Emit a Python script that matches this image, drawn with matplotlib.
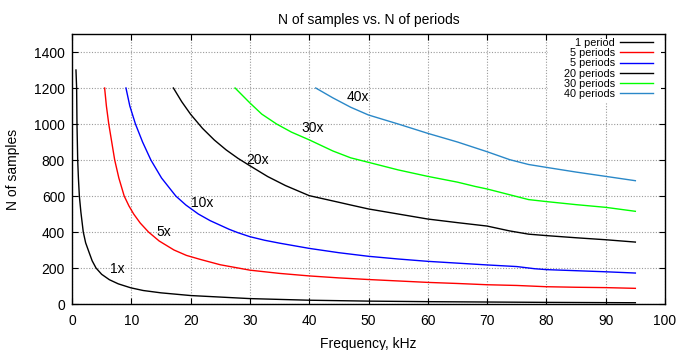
import matplotlib
matplotlib.use("Agg")
import matplotlib.pyplot as plt
from matplotlib.patches import Rectangle

plt.rcParams['font.family'] = ['Liberation Sans', 'DejaVu Sans']

# ---- data ----
freq_1x = [0.67, 0.78, 0.84, 0.96, 1.08, 1.24, 1.5, 1.9, 2.3, 2.9, 3.4, 4.05, 5.0, 6.3, 7.8, 9.9, 12, 15, 20, 30, 40, 50, 60, 70, 80, 95]
n_1x = [1300, 1200, 1000, 800, 700, 600, 510, 400, 340, 285, 240, 200, 165, 135, 112, 90, 75, 62, 47, 30, 21, 16, 13, 11, 9, 7]

freq_5x = [5.5, 5.8, 6.2, 6.7, 7.2, 7.9, 8.8, 9.6, 10.4, 11.5, 12.9, 14.7, 17.2, 19.3, 21.6, 25, 30, 35, 40, 45, 50, 55, 60, 65, 70, 75, 80, 85, 90, 95]
n_5x = [1200, 1100, 1000, 900, 800, 700, 600, 545, 500, 450, 400, 350, 300, 270, 248, 218, 188, 170, 156, 145, 136, 128, 120, 114, 107, 103, 96, 93, 91, 87]

freq_10x = [9.1, 9.75, 10.7, 11.9, 13.3, 15.1, 17.5, 19.2, 21.3, 23.3, 26.5, 28, 30, 32.5, 35, 40, 45, 50, 55, 60, 65, 70, 75, 78, 80, 85, 90, 95]
n_10x = [1200, 1100, 1000, 900, 800, 700, 600, 550, 500, 463, 415, 396, 374, 354, 338, 309, 285, 265, 250, 237, 227, 217, 208, 196, 191, 185, 179, 172]

freq_20x = [17.1, 18.5, 20, 22, 24, 26, 28, 30, 33, 36, 40, 45, 47, 50, 55, 60, 65, 70, 73.8, 77, 80, 85, 90, 95]
n_20x = [1200, 1124, 1054, 976, 911, 856, 809, 768, 708, 658, 602, 565, 550, 528, 500, 472, 452, 433, 406, 388, 380, 368, 357, 344]

freq_30x = [27.5, 30, 32, 34.5, 37, 40, 44, 47, 50, 55, 60, 65, 68, 70, 73.8, 77, 80, 85, 90, 95]
n_30x = [1200, 1117, 1055, 1000, 955, 912, 850, 812, 787, 745, 709, 677, 653, 639, 607, 580, 569, 552, 537, 515]

freq_40x = [41.1, 44, 47, 50, 55, 60, 65, 70, 73.8, 77, 80, 85, 90, 95]
n_40x = [1200, 1145, 1093, 1050, 1000, 948, 900, 846, 802, 775, 759, 733, 709, 685]

legend_labels = ["1 period", "5 periods", "5 periods", "20 periods", "30 periods", "40 periods"]
colors = ["#000000", "#ff0000", "#0000ff", "#000000", "#00ff00", "#2a88c8"]

curve_labels = ["1x", "5x", "10x", "20x", "30x", "40x"]
curve_label_f = [6.4, 14.2, 20.1, 29.4, 38.7, 46.3]
curve_label_n = [197, 400, 560, 800, 975, 1150]

x_ticks = [0, 10, 20, 30, 40, 50, 60, 70, 80, 90, 100]
y_ticks = [0, 200, 400, 600, 800, 1000, 1200, 1400]

# ---- figure ----
fig = plt.figure(figsize=(6.77, 3.5), dpi=100)
ax = fig.add_axes([72/677, 46/350, 593/677, 270/350])

series = [(freq_1x, n_1x), (freq_5x, n_5x), (freq_10x, n_10x),
          (freq_20x, n_20x), (freq_30x, n_30x), (freq_40x, n_40x)]
for (f, n), c, lab in zip(series, colors, legend_labels):
    ax.plot(f, n, color=c, lw=1.0, label=lab, zorder=3)

for t, fx, ny in zip(curve_labels, curve_label_f, curve_label_n):
    ax.text(fx, ny, t, fontsize=10, ha='left', va='center', zorder=4)

ax.set_xlim(0, 100)
ax.set_ylim(0, 1500)
ax.set_xticks(x_ticks)
ax.set_yticks(y_ticks)
ax.set_axisbelow(True)
ax.grid(True, color='#9a9a9a', linestyle=(0, (1, 1.5)), linewidth=0.8)
ax.tick_params(direction='in', length=4, width=0.8, top=True, right=True,
               labelsize=10, pad=5)
ax.tick_params(axis='x', pad=7)
for s in ax.spines.values():
    s.set_linewidth(1.0)

# legend background (opaque key box)
ax.add_patch(Rectangle((0.803, 0.744), 0.19, 0.239, transform=ax.transAxes,
                       facecolor='white', edgecolor='none', zorder=1.5))

leg = ax.legend(loc='upper right', bbox_to_anchor=(0.979, 0.985), frameon=False,
                markerfirst=False, fontsize=7.8, labelspacing=0.02,
                handlelength=3.0, handletextpad=0.5, borderaxespad=0, borderpad=0)
leg.set_zorder(5)

ax.set_title("N of samples vs. N of periods", fontsize=10, pad=7)
ax.set_xlabel("Frequency, kHz", fontsize=10, labelpad=7)
ax.set_ylabel("N of samples", fontsize=10, labelpad=10)

fig.savefig("out.png", dpi=100)
